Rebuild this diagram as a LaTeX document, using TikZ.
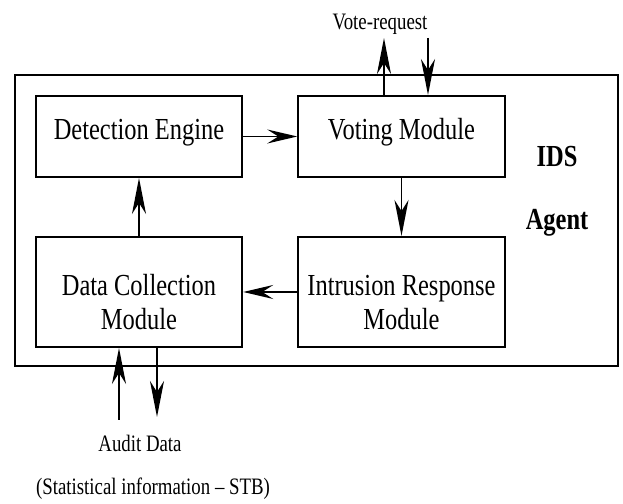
\documentclass[tikz,border=0pt]{standalone}
\usepackage{fontspec}
\setmainfont{Liberation Serif}[FakeStretch=0.8]
\usetikzlibrary{arrows.meta,calc}

\tikzset{
  module/.style={draw, line width=1.1pt, minimum width=4.13cm, align=center, inner sep=0.1cm,
    font=\fontsize{17.4}{19.8}\selectfont, text height=0.4cm, text depth=0.28cm},
  twoline/.style={text height=1.6cm, text depth=0.08cm},
  flow/.style={line width=1.1pt, -{Stealth[length=#1,width=0.28cm,inset=0.22cm]}},
  flow/.default=0.72cm,
  note/.style={font=\fontsize{13.4}{15}\selectfont, anchor=base},
  agentlabel/.style={font=\fontsize{17.4}{19}\selectfont\bfseries, anchor=base}
}

\begin{document}
\begin{tikzpicture}
  \useasboundingbox (0,0) rectangle (12.46,10.08);
  % agent frame
  \draw[line width=1.1pt] (0.30,2.76) rectangle (12.36,8.58);

  \node [module, minimum height=1.62cm] (det) at (2.78,7.35) {Detection Engine};
  \node [module, minimum height=1.62cm] (vote) at (8.03,7.35) {Voting Module};
  \node [module, twoline, minimum height=2.2cm] (collect) at (2.78,4.24) {Data Collection\\Module};
  \node [module, twoline, minimum height=2.2cm] (response) at (8.03,4.24) {Intrusion Response\\Module};

  \node [agentlabel] (ids) at (11.14,6.74) {IDS};
  \node [agentlabel] (agent) at (11.14,5.48) {Agent};

  \draw [flow=0.6cm] (det) -- (vote);
  \draw [flow] (vote) -- (response);
  \draw [flow=0.6cm] (response) -- (collect);
  \draw [flow] (collect) -- (det);

  % vote requests
  \coordinate (reqout) at (7.68,9.32);
  \coordinate (reqin) at (8.56,9.32);
  \draw [flow] (reqout |- vote.north) -- (reqout);
  \draw [flow] (reqin) -- (reqin |- vote.north);
  \node [note] (votereq) at (7.6,9.48) {Vote-request};

  % audit data
  \coordinate (auditin) at (2.38,1.68);
  \coordinate (auditout) at (3.14,1.74);
  \draw [flow] (auditin) -- (auditin |- collect.south);
  \draw [flow] (auditout |- collect.south) -- (auditout);
  \node [note] (audit) at (2.8,1.04) {Audit Data};
  \node [note] (stats) at (3.06,0.18) {(Statistical information -- STB)};
\end{tikzpicture}
\end{document}
